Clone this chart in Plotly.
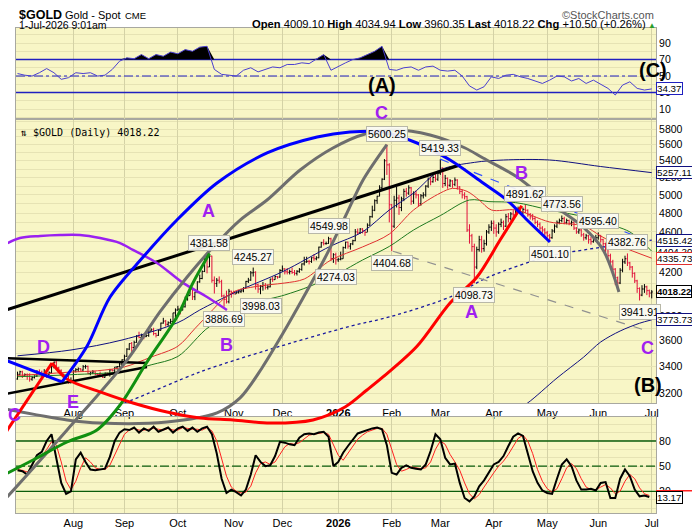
import numpy as np
import pandas as pd
import plotly.graph_objects as go

# ---------------- data ----------------
dates = pd.bdate_range("2025-07-01", "2026-07-01")

opens = [
    3303, 3338, 3357, 3326, 3336, 3335, 3302, 3313, 3324, 3355, 3343, 3324, 3347, 3339, 3350, 3396, 3431, 3387, 3368, 3337, 3314, 3326, 3275,
    3290, 3363, 3373, 3380, 3370, 3396, 3398, 3343, 3348, 3356, 3336, 3336, 3332, 3315, 3347, 3339, 3371, 3365, 3393, 3397, 3416,
    3448, 3476, 3533, 3578, 3546, 3587, 3637, 3627, 3641, 3633, 3643, 3679, 3690, 3659, 3644, 3685, 3746, 3763, 3736, 3749, 3760, 3833,
    3858, 3866, 3857, 3886, 3960, 3985, 4040, 3975, 4018, 4110, 4142, 4208, 4326, 4251, 4356, 4125, 4095, 4126, 4112, 3982, 3952, 3930, 4025,
    4002, 4000, 4012, 4020, 4028, 4050, 4115, 4127, 4195, 4200, 4084, 4045, 4067, 4078, 4060, 4065, 4136, 4131, 4160, 4155,
    4218, 4232, 4205, 4200, 4208, 4198, 4190, 4210, 4228, 4280, 4300, 4305, 4304, 4340, 4330, 4340, 4445, 4490, 4480, 4482, 4530, 4332, 4370,
    4320, 4325, 4330, 4440, 4495, 4455, 4478, 4510, 4600, 4590, 4630, 4615, 4595, 4670, 4760, 4830, 4935, 4985, 5080, 5180, 5400, 5350,
    4890, 4660, 4940, 4965, 4860, 4955, 5040, 5020, 5080, 4930, 5010, 5000, 4900, 4990, 5000, 5100, 5180, 5150, 5200, 5180,
    5250, 5310, 5130, 5190, 5110, 5160, 5120, 5170, 5090, 5040, 5000, 4980, 4620, 4560, 4450, 4250, 4420, 4520, 4430, 4480, 4600, 4650,
    4690, 4640, 4600, 4680, 4700, 4660, 4760, 4740, 4790, 4780, 4820, 4850, 4800, 4840, 4830, 4780, 4760, 4740, 4700, 4680, 4640, 4620,
    4590, 4560, 4540, 4610, 4660, 4700, 4720, 4740, 4700, 4720, 4690, 4700, 4640, 4600, 4620, 4570, 4540, 4560, 4520, 4500, 4530,
    4540, 4560, 4520, 4480, 4420, 4360, 4300, 4230, 4150, 4100, 4220, 4300, 4330, 4290, 4250, 4190, 4120, 4050, 3990, 4045, 4065, 4030,
    4009.10,
]
highs = [
    3358, 3365, 3365, 3345, 3345, 3345, 3325, 3330, 3370, 3375, 3365, 3377, 3352, 3360, 3402, 3434, 3438, 3395, 3375, 3345, 3334, 3333, 3315,
    3368, 3385, 3390, 3385, 3408, 3410, 3404, 3358, 3370, 3360, 3345, 3358, 3336, 3350, 3351, 3379, 3376, 3394, 3400, 3424, 3453,
    3489, 3540, 3578, 3590, 3600, 3646, 3674, 3658, 3650, 3652, 3685, 3703, 3707, 3665, 3688, 3750, 3791, 3773, 3761, 3783, 3834, 3872,
    3895, 3875, 3897, 3977, 3991, 4059, 4058, 4020, 4116, 4179, 4218, 4340, 4335, 4381.58, 4360, 4161, 4146, 4161, 4130, 3995, 4030, 4046, 4030,
    4030, 4025, 4035, 4047, 4062, 4120, 4148, 4212, 4245.27, 4210, 4095, 4082, 4110, 4099, 4085, 4140, 4157, 4170, 4165, 4230,
    4265, 4240, 4240, 4225, 4245, 4222, 4220, 4240, 4285, 4350, 4350, 4320, 4345, 4375, 4355, 4450, 4498, 4525, 4500, 4549.98, 4540, 4385, 4390,
    4340, 4400, 4450, 4500, 4500, 4485, 4520, 4630, 4635, 4640, 4640, 4620, 4690, 4770, 4880, 4950, 4990, 5110, 5190, 5420, 5600.25, 5370,
    4900, 4990, 5090, 5000, 4980, 5070, 5080, 5110, 5090, 5040, 5050, 5010, 5010, 5030, 5110, 5200, 5210, 5230, 5240, 5280,
    5419.33, 5320, 5230, 5200, 5180, 5170, 5200, 5180, 5100, 5060, 5030, 4990, 4680, 4580, 4480, 4450, 4560, 4560, 4520, 4620, 4680, 4720,
    4720, 4680, 4700, 4740, 4720, 4790, 4800, 4810, 4830, 4840, 4870, 4860, 4860, 4891.62, 4840, 4800, 4790, 4760, 4720, 4700, 4660, 4640,
    4610, 4580, 4630, 4680, 4720, 4740, 4773.56, 4760, 4740, 4730, 4720, 4710, 4650, 4640, 4630, 4590, 4580, 4570, 4550, 4560, 4570,
    4595.40, 4570, 4530, 4490, 4440, 4380, 4320, 4240, 4160, 4240, 4330, 4360, 4382.76, 4300, 4260, 4200, 4130, 4060, 4080, 4090, 4075, 4040,
    4034.94,
]
lows = [
    3298, 3330, 3311, 3322, 3297, 3283, 3290, 3307, 3318, 3340, 3320, 3320, 3310, 3332, 3345, 3383, 3380, 3352, 3325, 3302, 3308, 3268, 3270,
    3281, 3352, 3355, 3365, 3365, 3380, 3340, 3331, 3340, 3331, 3330, 3322, 3311, 3312, 3332, 3321, 3360, 3351, 3373, 3390, 3405,
    3437, 3471, 3525, 3511, 3533, 3584, 3620, 3618, 3612, 3630, 3632, 3675, 3644, 3627, 3640, 3684, 3741, 3717, 3722, 3740, 3758, 3793,
    3851, 3820, 3855, 3880, 3940, 3985, 3946, 3945, 4008, 4103, 4135, 4203, 4190, 4250, 4103, 4004, 4064, 4096, 3971, 3886.69, 3915, 3916, 3967,
    4000, 4000, 4004, 4010, 4015, 4050, 4100, 4120, 4160, 4040, 4010, 3998.03, 4030, 4040, 4040, 4060, 4110, 4130, 4140, 4150,
    4202, 4180, 4180, 4180, 4185, 4170, 4170, 4195, 4215, 4265, 4290, 4275, 4290, 4310, 4315, 4335, 4440, 4462, 4470, 4478, 4310, 4290, 4274.03,
    4300, 4315, 4330, 4430, 4430, 4420, 4465, 4505, 4570, 4580, 4585, 4560, 4600, 4665, 4750, 4820, 4900, 4985, 5050, 5170, 5230, 4700,
    4404.68, 4640, 4860, 4780, 4820, 4930, 4980, 5000, 4890, 4900, 4960, 4870, 4880, 4960, 4980, 5080, 5110, 5140, 5150, 5160,
    5230, 5080, 5100, 5070, 5090, 5080, 5100, 5060, 5010, 4960, 4950, 4600, 4480, 4400, 4098.73, 4230, 4400, 4390, 4400, 4460, 4580, 4610,
    4580, 4550, 4580, 4650, 4620, 4650, 4700, 4720, 4740, 4760, 4800, 4780, 4790, 4800, 4760, 4730, 4720, 4680, 4650, 4610, 4590, 4560,
    4540, 4501.10, 4530, 4590, 4640, 4680, 4700, 4680, 4680, 4670, 4660, 4620, 4580, 4580, 4550, 4510, 4520, 4480, 4470, 4490, 4500,
    4520, 4490, 4450, 4380, 4320, 4270, 4200, 4080, 4050, 4090, 4200, 4280, 4260, 4220, 4150, 4100, 4010, 3941.91, 3980, 4010, 3990, 3970,
    3960.35,
]
closes = [
    3338, 3357, 3326, 3336, 3335, 3302, 3313, 3324, 3355, 3343, 3324, 3347, 3339, 3350, 3396, 3431, 3387, 3368, 3337, 3314, 3326, 3275, 3290,
    3363, 3373, 3380, 3370, 3396, 3398, 3343, 3348, 3356, 3336, 3336, 3332, 3315, 3347, 3339, 3371, 3365, 3393, 3397, 3416, 3448,
    3476, 3533, 3578, 3546, 3587, 3637, 3627, 3641, 3633, 3643, 3679, 3690, 3659, 3644, 3685, 3746, 3763, 3736, 3749, 3760, 3833, 3858,
    3866, 3857, 3886, 3960, 3985, 4040, 3975, 4018, 4110, 4142, 4208, 4326, 4251, 4356, 4125, 4095, 4126, 4112, 3982, 3952, 3930, 4025, 4002,
    4000, 4012, 4020, 4028, 4050, 4115, 4127, 4195, 4200, 4084, 4045, 4067, 4078, 4060, 4065, 4136, 4131, 4160, 4155, 4218,
    4232, 4205, 4200, 4208, 4198, 4190, 4210, 4228, 4280, 4300, 4305, 4304, 4340, 4330, 4340, 4445, 4490, 4480, 4482, 4530, 4332, 4370, 4320,
    4325, 4330, 4440, 4495, 4455, 4478, 4510, 4600, 4590, 4630, 4615, 4595, 4670, 4760, 4830, 4935, 4985, 5080, 5180, 5400, 5350, 4890,
    4660, 4940, 4965, 4860, 4955, 5040, 5020, 5080, 4930, 5010, 5000, 4900, 4990, 5000, 5100, 5180, 5150, 5200, 5180, 5250,
    5310, 5130, 5190, 5110, 5160, 5120, 5170, 5090, 5040, 5000, 4980, 4620, 4560, 4450, 4250, 4420, 4520, 4430, 4480, 4600, 4650, 4690,
    4640, 4600, 4680, 4700, 4660, 4760, 4740, 4790, 4780, 4820, 4850, 4800, 4840, 4830, 4780, 4760, 4740, 4700, 4680, 4640, 4620, 4590,
    4560, 4540, 4610, 4660, 4700, 4720, 4740, 4700, 4720, 4690, 4700, 4640, 4600, 4620, 4570, 4540, 4560, 4520, 4500, 4530, 4540,
    4560, 4520, 4480, 4420, 4360, 4300, 4230, 4150, 4100, 4220, 4300, 4330, 4290, 4250, 4190, 4120, 4050, 3990, 4045, 4065, 4030, 4008,
    4018.22,
]

# moving averages and bands, read at a few bar positions
ma_red_at = [0, 10, 22, 33, 44, 55, 66, 73, 79, 85, 90, 96, 104, 110, 118, 129, 142, 153, 163, 174, 179, 185, 190, 195, 205, 219, 233, 240, 248, 261]
ma_red = [3330, 3340, 3355, 3365, 3394, 3470, 3556, 3700, 3830, 3960, 4030, 4060, 4085, 4100, 4137, 4318, 4447, 4578, 4833, 5021,
          5074, 5040, 4943, 4833, 4833, 4704, 4662, 4558, 4457, 4335.73]
ma_green_at = [0, 22, 44, 55, 66, 79, 90, 98, 110, 120, 132, 142, 153, 163, 174, 186, 194, 205, 219, 233, 240, 252, 261]
ma_green = [3320, 3335, 3360, 3410, 3475, 3716, 3801, 3917, 3991, 4067, 4190, 4318, 4452, 4620, 4772, 4943, 4925, 4914, 4833,
            4760, 4704, 4600, 4404.20]
bb_up_at = [0, 22, 43, 66, 75, 90, 109, 129, 142, 153, 163, 174, 188, 200, 219, 240, 261]
bb_up = [3480, 3526, 3606, 3750, 3858, 4020, 4205, 4457, 4600, 4833, 5021, 5288, 5380, 5409, 5409, 5330, 5257.11]
bb_mid_at = [30, 47, 75, 103, 137, 153, 178, 194, 219, 233, 261]
bb_mid = [3050, 3150, 3355, 3526, 3720, 3798, 3973, 4157, 4357, 4417, 4515.42]
bb_low_at = [205, 210, 222, 233, 240, 248, 256, 261]
bb_low = [3080, 3130, 3310, 3470, 3590, 3680, 3745, 3773.73]

# RSI every 3rd bar, stochastics every 2nd bar
rsi = [53, 51, 50, 54, 59, 54, 46, 48, 54, 53,
       54, 50, 51, 58, 68, 72, 71, 76, 71, 76,
       74, 79, 77, 82, 80, 85, 86, 58, 52, 51,
       50, 57, 60, 55, 58, 61, 60, 64, 64, 66,
       65, 71, 76, 57, 62, 66, 70, 72, 76, 80,
       86, 58, 57, 60, 61, 57, 61, 62, 57, 56,
       57, 50, 38, 33, 37, 49, 47, 51, 52, 49,
       47, 44, 41, 45, 50, 49, 44, 47, 41, 45,
       40, 35, 27, 39, 43, 35, 33, 34.37]
stoch_k = [45, 44, 40, 52, 63, 67, 80, 88, 60, 30,
           17, 20, 58, 66, 55, 46, 45, 46, 47, 61,
           80, 90, 94, 93, 96, 90, 95, 92, 97, 91,
           94, 96, 90, 95, 97, 92, 96, 91, 95, 97,
           88, 65, 35, 18, 22, 19, 15, 22, 40, 63,
           55, 50, 51, 62, 79, 78, 76, 75, 84, 88,
           89, 88, 90, 91, 85, 50, 55, 66, 74, 82,
           89, 91, 93, 95, 96, 94, 75, 42, 40, 48,
           51, 48, 47, 46, 52, 68, 88, 82, 60, 52,
           53, 30, 12, 8, 14, 26, 33, 42, 52, 55,
           62, 74, 85, 89, 86, 65, 44, 30, 21, 18,
           17, 35, 52, 58, 50, 33, 22, 22, 23, 21,
           30, 31, 12, 12, 35, 46, 38, 22, 14, 15,
           13.17]
stoch_d = [46, 45, 43, 45, 53, 61, 70, 79, 75, 55,
           32, 22, 32, 48, 60, 55, 48, 46, 46, 51,
           63, 77, 88, 93, 95, 93, 93, 94, 95, 94,
           93, 95, 93, 93, 96, 95, 94, 94, 93, 96,
           92, 80, 60, 38, 25, 20, 18, 19, 26, 42,
           53, 55, 52, 55, 64, 73, 77, 76, 78, 83,
           87, 88, 89, 90, 88, 75, 63, 57, 65, 74,
           82, 87, 91, 93, 95, 95, 88, 70, 52, 44,
           46, 49, 48, 47, 48, 55, 70, 80, 76, 64,
           55, 45, 30, 17, 11, 16, 25, 34, 42, 50,
           56, 64, 74, 83, 87, 80, 65, 46, 32, 23,
           19, 23, 35, 48, 53, 47, 35, 25, 22, 22,
           25, 28, 24, 17, 20, 32, 40, 35, 24, 17,
           15]

# swing labels: bar index, and whether the label is on the high
swing_at = [79, 85, 97, 100, 128, 131, 152, 154, 174, 188, 209, 219, 224, 239, 251, 256]
swing_high = [True, False, True, False, True, False, True, False, True, False, True, False, True, True, True, False]

month_labels = ["Aug", "Sep", "Oct", "Nov", "Dec", "<b>2026</b>", "Feb", "Mar", "Apr", "May", "Jun", "Jul"]
price_ticks = list(range(3200, 5801, 200))

# hand-drawn wave annotations (bar index, price)
purple_x = [-7.2, 1.0, 9.3, 17.5, 25.7, 34.0, 42.2, 47.5, 57.4, 68.1, 78.0, 86.2]
purple_y = [4446, 4537, 4558, 4568, 4568, 4537, 4486, 4417, 4289, 4101, 3973, 3858]
blue_seg_x = [-7.2, 18.3]
blue_seg_y = [3463, 3281]
blue_arc_x = [18.3, 28.6, 38.1, 51.7, 65.6, 82.1, 102.7, 123.3, 136.8, 150.4, 164.4, 178.0, 191.6, 201.4, 209.7, 219.1]
blue_arc_y = [3281, 3556, 3973, 4347, 4725, 5136, 5495, 5696, 5761, 5761, 5620, 5409, 5136, 4943, 4725, 4497]
gray1_x = [-7.2, 20.4, 45.1, 58.6, 69.8, 80.5, 91.6, 102.7, 116.3, 129.8, 143.0, 155.4, 169.8, 184.2, 191.6, 205.6, 219.1, 232.7, 241.0, 247.5]
gray1_y = [2487, 2945, 3447, 3841, 4156, 4446, 4725, 4943, 5288, 5557, 5735, 5787, 5722, 5557, 5433, 5206, 4910, 4652, 4417, 4018]
gray2_x = [-7.2, 20.4, 34.0, 61.5, 82.1, 91.6, 100.6, 109.3, 117.5, 126.5, 134.8, 142.2, 152.0]
gray2_y = [3094, 3012, 2991, 2998, 3060, 3165, 3386, 3663, 3964, 4337, 4757, 5171, 5600]
red_up_x = [-7.2, 14.2]
red_up_y = [2873, 3424]
red_u_x = [14.2, 20.4, 34.0, 47.5, 61.5, 75.1, 88.7, 103.9, 121.6, 134.8, 143.8, 150.4, 164.4, 178.0, 189.1, 198.6, 205.6, 207.5]
red_u_y = [3424, 3302, 3208, 3129, 3066, 3025, 3012, 2991, 3012, 3101, 3222, 3318, 3556, 3920, 4156, 4517, 4800, 4880]
green_x = [-7.2, 6.4, 20.4, 32.7, 42.2, 53.3, 65.6, 72.2, 79.0]
green_y = [2649, 2752, 2866, 2945, 3115, 3432, 3798, 4101, 4381]
black_x = [-7.2, 182.1]
black_y = [3841, 5348]
black1_x = [-7.2, 53.3]
black1_y = [3463, 3424]
black2_x = [-7.2, 53.3]
black2_y = [3186, 3394]
trend_blue_x = [174, 257.4]
trend_blue_y = [5419, 4527]
trend_gray_x = [154.5, 259]
trend_gray_y = [4404, 3682]

wave_text = ["A", "B", "C", "A", "B", "C", "D", "E", "C"]
wave_x = [78.8, 86.2, 149.6, 187.0, 207.6, 259.1, 10.5, 22.8, -1.3]
wave_y = [4822, 3566, 6013, 3841, 5253, 3542, 3550, 3136, 3046]
degree_text = ["(A)", "(B)", "(C)"]
degree_x = [150.0, 259.5, 261.5]
degree_y = [6404, 3259, 6624]

for s in (opens, highs, lows, closes):
    assert len(s) == len(dates), len(s)
assert len(rsi) == len(range(0, len(dates), 3))
assert len(stoch_k) == len(stoch_d) == len(range(0, len(dates), 2))

# ---------------- geometry (screen pixels; the page adds an 8px body margin) ----------------
PAGE = 8
W, H = 700 - PAGE, 530 - PAGE
SX0, SX1, SY0, SY1 = 8, 656, 28, 513          # plot area on screen
ML, MR, MT, MB = SX0 - PAGE, 700 - SX1, SY0 - PAGE, 530 - SY1
PW, PH = SX1 - SX0, SY1 - SY0
FONT = "Liberation Sans, Arial, sans-serif"
BG = "#f8f6c6"
GRID_H = "#e6e3b4"
GRID_V = "#d4d2a6"
BORDER = "#a8a8a0"


def fx(px):
    return (px - SX0) / PW


def fy(py):
    return (SY1 - py) / PH


def price_at(py):
    return 5800 * np.exp(-(py - 129) / 444.0)


bar0, bar_px = 17.5, 2.43
x_rng = [(16 - bar0) / bar_px, (SX1 - bar0) / bar_px]
x_full = [(SX0 - bar0) / bar_px, (SX1 - bar0) / bar_px]
x_dom = [fx(16), 1]
rsi_dom = [fy(119), 1]
price_dom = [fy(403), fy(119)]
stoch_dom = [0, fy(417)]

idx = np.arange(len(dates))
month_at = [i for i in range(1, len(dates)) if dates[i].month != dates[i - 1].month]
rsi_x = idx[::3]
st_x = idx[::2]

fig = go.Figure()


def line(x, y, color, width=1, dash="solid", ax="", spline=False):
    return go.Scatter(x=x, y=y, mode="lines", xaxis="x" + ax, yaxis="y" + ax,
                      line=dict(color=color, width=width, dash=dash,
                                shape="spline" if spline else "linear", smoothing=0.9),
                      showlegend=False, hoverinfo="skip")


# RSI panel
fig.add_trace(line([x_rng[0], x_rng[1]], [70, 70], "#2020c0", 1.5, ax="3"))
fig.add_trace(line([x_rng[0], x_rng[1]], [30, 30], "#2020c0", 1.5, ax="3"))
fig.add_trace(line([x_rng[0], x_rng[1]], [50, 50], "#2020c0", 1.2, "dashdot", ax="3"))
fig.add_trace(go.Scatter(x=rsi_x, y=[70] * len(rsi_x), mode="lines", line=dict(width=0),
                         xaxis="x3", yaxis="y3", showlegend=False, hoverinfo="skip"))
fig.add_trace(go.Scatter(x=rsi_x, y=np.maximum(rsi, 70), mode="lines", line=dict(width=0),
                         fill="tonexty", fillcolor="black", xaxis="x3", yaxis="y3",
                         showlegend=False, hoverinfo="skip"))
fig.add_trace(line(rsi_x, rsi, "#4a3fd0", 1, ax="3"))

# price panel
fig.add_trace(go.Ohlc(x=idx, open=opens, high=highs, low=lows, close=closes,
                      increasing=dict(line=dict(color="black", width=1)),
                      decreasing=dict(line=dict(color="#e0103a", width=1)),
                      tickwidth=0.45, xaxis="x", yaxis="y", showlegend=False, hoverinfo="skip"))
fig.add_trace(line(bb_up_at, bb_up, "#101080", 1, spline=True))
fig.add_trace(line(bb_low_at, bb_low, "#101080", 1, spline=True))
fig.add_trace(line(bb_mid_at, bb_mid, "#1a1aa0", 1.3, "dot", spline=True))
fig.add_trace(line(ma_green_at, ma_green, "#1f7a1f", 1, spline=True))
fig.add_trace(line(ma_red_at, ma_red, "#e03030", 1, spline=True))

# stochastics panel
fig.add_trace(line([x_rng[0], x_rng[1]], [80, 80], "#0b5d0b", 1.3, ax="2"))
fig.add_trace(line([x_rng[0], x_rng[1]], [20, 20], "#0b5d0b", 1.3, ax="2"))
fig.add_trace(line([x_rng[0], x_rng[1]], [50, 50], "#0b5d0b", 1.2, "dashdot", ax="2"))
fig.add_trace(line(st_x, stoch_d, "#ff2020", 1, ax="2"))
fig.add_trace(line(st_x, stoch_k, "black", 2, ax="2"))

# hand-drawn wave overlay (spans the whole chart)
fig.add_trace(line(trend_gray_x, trend_gray_y, "#909090", 1.2, "dash", ax="4"))
fig.add_trace(line(trend_blue_x, trend_blue_y, "#3050ff", 1.2, "dash", ax="4"))
fig.add_trace(line(black_x, black_y, "black", 3, ax="4"))
fig.add_trace(line(black1_x, black1_y, "black", 2.5, ax="4"))
fig.add_trace(line(black2_x, black2_y, "black", 2.5, ax="4"))
fig.add_trace(line(purple_x, purple_y, "#9a20f0", 2.5, ax="4", spline=True))
fig.add_trace(line(gray1_x, gray1_y, "#6e6e6e", 3, ax="4", spline=True))
fig.add_trace(line(gray2_x, gray2_y, "#6e6e6e", 3, ax="4", spline=True))
fig.add_trace(line(green_x, green_y, "#109010", 3, ax="4", spline=True))
fig.add_trace(line(red_up_x, red_up_y, "#ff0000", 3, ax="4"))
fig.add_trace(line(red_u_x, red_u_y, "#ff0000", 3, ax="4", spline=True))
fig.add_trace(line(blue_seg_x, blue_seg_y, "#0000ff", 3, ax="4"))
fig.add_trace(line(blue_arc_x, blue_arc_y, "#0000ff", 3, ax="4", spline=True))

# ---------------- annotations ----------------
ann = []


def txt(x, y, s, size=11, color="black", xanchor="left", bold=False, family=FONT, xref="paper", yref="paper"):
    ann.append(dict(x=x, y=y, xref=xref, yref=yref, text=("<b>%s</b>" % s) if bold else s,
                    showarrow=False, xanchor=xanchor, yanchor="middle",
                    font=dict(size=size, color=color, family=family)))


txt(fx(17), fy(14.5), "$GOLD", 12.5, bold=True)
txt(fx(63), fy(14.5), "Gold - Spot", 11)
txt(fx(123), fy(15), "CME", 9.5)
txt(fx(17), fy(24.5), "1-Jul-2026 9:01am", 10.5)
sp = "\u00a0"
hdr = ("<b>Open</b> %.2f%s<b>High</b> %.2f%s<b>Low</b> %.2f%s<b>Last</b> %.2f%s<b>Chg</b> +10.50 (+0.26%%)"
       % (opens[-1], sp, highs[-1], sp, lows[-1], sp, closes[-1], sp))
txt(fx(648), fy(24), hdr, 11.2, xanchor="right")
txt(fx(652), fy(25), "\u25b2", 8, color="#2a9d2a", xanchor="center")
txt(fx(656), fy(14.5), "\u00a9StockCharts.com", 11, color="#555555", xanchor="right")
txt(fx(18), fy(132.5), "\u21c5 $GOLD (Daily) %.2f" % closes[-1], 10, family="DejaVu Sans Mono, monospace")

# swing high / low labels
for i, hi in zip(swing_at, swing_high):
    v = highs[i] if hi else lows[i]
    ann.append(dict(x=i, y=np.log10(v), xref="x", yref="y", text="%.2f" % v, showarrow=False,
                    yshift=11 if hi else -12, font=dict(size=10.5, family=FONT, color="black"),
                    bgcolor="rgba(250,250,244,0.92)", bordercolor="#b8b8a8", borderwidth=1, borderpad=1))

# wave letters
for s, x, y in zip(wave_text, wave_x, wave_y):
    txt(x, np.log10(y), s, 18, color="#a020f0", xanchor="center", bold=True, xref="x4", yref="y4")
for s, x, y in zip(degree_text, degree_x, degree_y):
    txt(x, np.log10(y), s, 20, color="black", xanchor="center", bold=True, xref="x4", yref="y4")


# right-axis value boxes
def vbox(y, yref, s, color, bold=False):
    ann.append(dict(x=1.0, y=y, xref="paper", yref=yref, text=("<b>%s</b>" % s) if bold else s,
                    showarrow=False, xanchor="left", yanchor="middle", xshift=0,
                    font=dict(size=9.5 if bold else 9.8, family=FONT, color="black"),
                    bgcolor="white", bordercolor=color, borderwidth=1, borderpad=0))


vbox(rsi[-1], "y3", "%.2f" % rsi[-1], "#2020c0")
vbox(np.log10(bb_up[-1]), "y", "%.2f" % bb_up[-1], "#101080")
vbox(np.log10(ma_green[-1]), "y", "%.2f" % ma_green[-1], "#1f7a1f")
vbox(np.log10(bb_mid[-1]), "y", "%.2f" % bb_mid[-1], "#101080")
vbox(np.log10(ma_red[-1]), "y", "%.2f" % ma_red[-1], "#e03030")
vbox(np.log10(closes[-1]), "y", "%.2f" % closes[-1], "black", bold=True)
vbox(np.log10(bb_low[-1]), "y", "%.2f" % bb_low[-1], "#101080")
vbox(stoch_k[-1], "y2", "%.2f" % stoch_k[-1], "black")

# panel backgrounds
shapes = []
for dom in (rsi_dom, price_dom, stoch_dom):
    shapes.append(dict(type="rect", xref="paper", yref="paper", x0=x_dom[0], x1=1, y0=dom[0], y1=dom[1],
                       fillcolor=BG, line=dict(width=0), layer="below"))
shapes.append(dict(type="line", xref="paper", yref="y2", x0=1, x1=fx(700), y0=20.5, y1=20.5,
                   line=dict(color="#ff2020", width=1.5)))

xcommon = dict(domain=x_dom, range=x_rng, tickmode="array", tickvals=month_at, ticktext=month_labels,
               showgrid=True, gridcolor=GRID_V, gridwidth=1, ticks="", zeroline=False,
               showline=True, mirror=True, linecolor=BORDER, linewidth=1,
               tickfont=dict(size=11, family=FONT, color="black"))
ycommon = dict(side="right", showgrid=True, gridcolor=GRID_H, zeroline=False, ticks="",
               showline=True, mirror=True, linecolor=BORDER, linewidth=1,
               tickfont=dict(size=10.5, family=FONT, color="black"))

fig.update_layout(
    width=W, height=H, margin=dict(l=ML, r=MR, t=MT, b=MB),
    paper_bgcolor="white", plot_bgcolor="rgba(0,0,0,0)", showlegend=False,
    font=dict(family=FONT, size=11, color="black"),
    xaxis=dict(xcommon, anchor="y", rangeslider=dict(visible=False)),
    xaxis2=dict(xcommon, anchor="y2", matches="x"),
    xaxis3=dict(xcommon, anchor="y3", matches="x", showticklabels=False),
    xaxis4=dict(domain=[0, 1], range=x_full, anchor="y4", visible=False, fixedrange=True),
    yaxis=dict(ycommon, domain=price_dom, anchor="x", type="log",
               range=[np.log10(price_at(403)), np.log10(price_at(119))],
               tickmode="array", tickvals=price_ticks, ticktext=[str(v) for v in price_ticks],
               minor=dict(tickmode="array", tickvals=list(range(3200, 5901, 100)), showgrid=True,
                          gridcolor=GRID_H, ticks="")),
    yaxis2=dict(ycommon, domain=stoch_dom, anchor="x2", range=[-5.9, 108.6],
                tickmode="array", tickvals=[20, 50, 80], showgrid=False,
                minor=dict(dtick=10, tick0=0, showgrid=True, gridcolor=GRID_H, ticks="")),
    yaxis3=dict(ycommon, domain=rsi_dom, anchor="x3", range=[-2.1, 108.2],
                tickmode="array", tickvals=[10, 30, 50, 70, 90], showgrid=False,
                minor=dict(dtick=10, tick0=0, showgrid=True, gridcolor=GRID_H, ticks="")),
    yaxis4=dict(domain=[0, 1], anchor="x4", type="log", visible=False, fixedrange=True,
                range=[np.log10(price_at(SY1)), np.log10(price_at(SY0))]),
    annotations=ann, shapes=shapes,
)

fig.write_html("out.html")
